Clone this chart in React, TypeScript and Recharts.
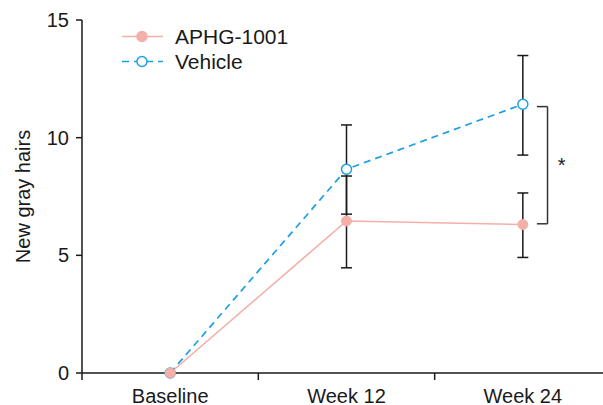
import React from 'react';
import {
  LineChart,
  Line,
  XAxis,
  YAxis,
  ErrorBar,
  Label,
  ReferenceLine,
  ReferenceDot,
} from 'recharts';

// categories sit at the middle of each band on a numeric axis
const categories = ['Baseline', 'Week 12', 'Week 24'];
const categoryPos = [0.5, 1.5, 2.5];

const aphg = [0, 6.46, 6.31];
const aphgErr: ([number, number] | null)[] = [null, [1.99, 1.91], [1.4, 1.34]];

const vehicle = [0, 8.66, 11.42];
const vehicleErr: ([number, number] | null)[] = [null, [1.91, 1.88], [2.16, 2.07]];

const yTicks = [0, 5, 10, 15];
const xTicks = [0, 0.5, 1, 1.5, 2, 2.5, 3];

// significance bracket between the two Week 24 means
const bracketX = [2.58, 2.64];
const bracketY = [11.32, 6.34];
const starPos = { x: 2.72, y: 8.84 };

const FONT = '"Liberation Sans", Arial, sans-serif';
const PINK = '#f4afa9';
const BLUE = '#1ba1e2';
const INK = '#1a1a1a';

const chartData = categories.map((name, i) => ({
  name,
  x: categoryPos[i],
  aphg: aphg[i],
  aphgErr: aphgErr[i],
  vehicle: vehicle[i],
  vehicleErr: vehicleErr[i],
}));

const legendRows = [
  { label: 'APHG-1001', color: PINK, dash: undefined, fill: PINK },
  { label: 'Vehicle', color: BLUE, dash: '7 5', fill: '#fff' },
];

const XTick = (props: any) => {
  const { x, y, payload } = props;
  const v = payload.value;
  if (Number.isInteger(v)) {
    return <line x1={x} y1={y} x2={x} y2={y + 7} stroke={INK} strokeWidth={1.5} />;
  }
  const idx = categoryPos.indexOf(v);
  return (
    <text x={x} y={y + 29.5} textAnchor="middle" fontSize={20} fill={INK} fontFamily={FONT}>
      {categories[idx]}
    </text>
  );
};

const ChartLegend = () => (
  <div
    style={{
      position: 'absolute',
      top: 24,
      left: 122,
      fontFamily: FONT,
      fontSize: 21,
      color: INK,
    }}
  >
    {legendRows.map((row) => (
      <div key={row.label} style={{ display: 'flex', alignItems: 'center', height: 25 }}>
        <svg width={53} height={25}>
          <line x1={0} y1={12.5} x2={41} y2={12.5} stroke={row.color} strokeWidth={1.6} strokeDasharray={row.dash} />
          <circle cx={20} cy={12.5} r={5} fill={row.fill} stroke={row.color} strokeWidth={1.5} />
        </svg>
        <span style={{ lineHeight: '25px' }}>{row.label}</span>
      </div>
    ))}
  </div>
);

const bracketShape = (props: any) => {
  const { x1, y1, x2, y2 } = props;
  return <line x1={x1} y1={y1} x2={x2} y2={y2} stroke="#333" strokeWidth={1.5} />;
};

export default function App() {
  return (
    <div style={{ width: 603, height: 405, position: 'relative', background: '#fff', overflow: 'hidden' }}>
      <style>{'body{margin:0;}'}</style>
      <LineChart
        width={603}
        height={405}
        data={chartData}
        margin={{ top: 20, right: -8, left: 0, bottom: 0 }}
      >
        <XAxis
          dataKey="x"
          type="number"
          domain={[0, 3]}
          ticks={xTicks}
          interval={0}
          tick={<XTick />}
          tickLine={false}
          tickSize={0}
          tickMargin={0}
          height={32}
          axisLine={{ stroke: INK, strokeWidth: 1.5 }}
        />
        <YAxis
          type="number"
          domain={[0, 15]}
          ticks={yTicks}
          width={82}
          tickSize={6}
          tickMargin={7}
          tick={{ fontSize: 20, fill: INK, fontFamily: FONT }}
          tickLine={{ stroke: INK, strokeWidth: 1.5 }}
          axisLine={{ stroke: INK, strokeWidth: 1.5 }}
        >
          <Label
            content={({ viewBox }: any) => {
              const cx = 23;
              const cy = viewBox.y + viewBox.height / 2;
              return (
                <text
                  x={cx}
                  y={cy}
                  transform={`rotate(-90, ${cx}, ${cy})`}
                  textAnchor="middle"
                  dominantBaseline="central"
                  fontSize={20}
                  fill={INK}
                  fontFamily={FONT}
                >
                  New gray hairs
                </text>
              );
            }}
          />
        </YAxis>
        <Line
          type="linear"
          dataKey="vehicle"
          stroke={BLUE}
          strokeWidth={1.7}
          strokeDasharray="7 5"
          dot={{ r: 5, fill: '#fff', stroke: BLUE, strokeWidth: 1.5, strokeDasharray: '' }}
          isAnimationActive={false}
        >
          <ErrorBar dataKey="vehicleErr" width={5.5} stroke={INK} strokeWidth={1.5} direction="y" />
        </Line>
        <Line
          type="linear"
          dataKey="aphg"
          stroke={PINK}
          strokeWidth={1.6}
          dot={{ r: 5, fill: PINK, stroke: PINK, strokeWidth: 1 }}
          isAnimationActive={false}
        >
          <ErrorBar dataKey="aphgErr" width={5.5} stroke={INK} strokeWidth={1.5} direction="y" />
        </Line>
        <ReferenceLine
          segment={[{ x: bracketX[1], y: bracketY[0] }, { x: bracketX[1], y: bracketY[1] }]}
          ifOverflow="visible"
          shape={bracketShape}
        />
        <ReferenceLine
          segment={[{ x: bracketX[0], y: bracketY[0] }, { x: bracketX[1], y: bracketY[0] }]}
          ifOverflow="visible"
          shape={bracketShape}
        />
        <ReferenceLine
          segment={[{ x: bracketX[0], y: bracketY[1] }, { x: bracketX[1], y: bracketY[1] }]}
          ifOverflow="visible"
          shape={bracketShape}
        />
        <ReferenceDot
          x={starPos.x}
          y={starPos.y}
          r={0}
          ifOverflow="visible"
          label={{ value: '*', position: 'center', fontSize: 20, fill: INK, fontFamily: FONT }}
        />
      </LineChart>
      <ChartLegend />
    </div>
  );
}
